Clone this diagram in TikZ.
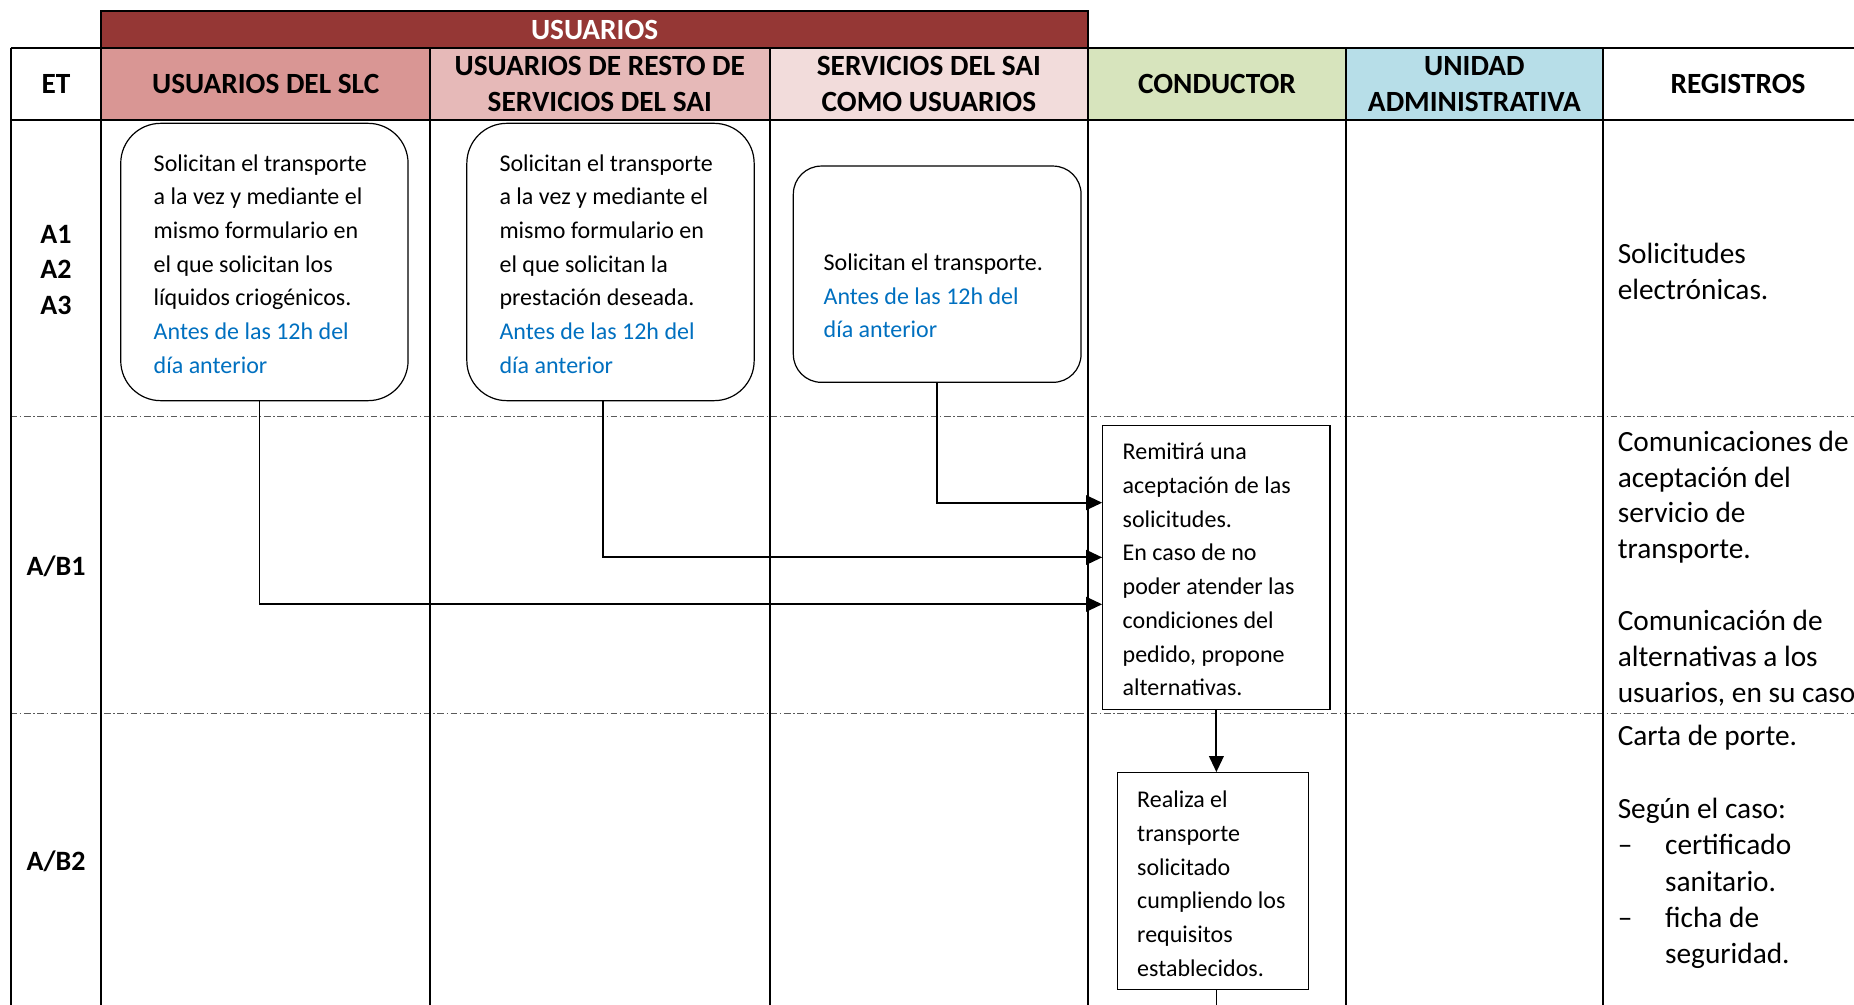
\documentclass[tikz,border=0pt]{standalone}
\usepackage{fontspec}
\setmainfont{Carlito}
\usetikzlibrary{arrows.meta}
\definecolor{barred}{HTML}{953735}
\definecolor{slcred}{HTML}{D99694}
\definecolor{restored}{HTML}{E6B9B8}
\definecolor{saired}{HTML}{F2DCDB}
\definecolor{condgreen}{HTML}{D7E4BD}
\definecolor{uablue}{HTML}{B7DEE8}
\definecolor{limitblue}{HTML}{0070C0}
\definecolor{sepgray}{HTML}{5A5A5A}
\tikzset{
  hdr/.style={font=\fontsize{22}{26.6}\selectfont\bfseries, align=center},
  etlabel/.style={font=\fontsize{21}{26.6}\selectfont\bfseries, align=center},
  rbox/.style={draw, line width=0.9pt, rounded corners=30pt, fill=white, inner sep=0pt},
  pbox/.style={draw, line width=0.9pt, fill=white, inner sep=0pt},
  boxtxt/.style={inner sep=0pt, anchor=west, align=left, font=\fontsize{18}{25.3}\selectfont},
  reg/.style={inner sep=0pt, anchor=north west, align=left, font=\fontsize{22}{26.9}\selectfont},
  flow/.style={line width=1.4pt, -{Triangle[length=12pt, width=11pt]}},
  rowsep/.style={sepgray, line width=0.7pt, dash pattern=on 5pt off 2pt on 1pt off 2pt},
  grid/.style={line width=1.35pt}
}
\begin{document}
\begin{tikzpicture}[x=0.75pt, y=-0.75pt] % one unit = one pixel of the sheet
\useasboundingbox (0,0) rectangle (1854,1005);
\clip (0,0) rectangle (1854,1005);
% header cells
\fill[slcred] (101.3,47.7) rectangle (430,120);
\fill[restored] (430,47.7) rectangle (769.7,120);
\fill[saired] (769.7,47.7) rectangle (1087.8,120);
\fill[condgreen] (1087.8,47.7) rectangle (1346,120);
\fill[uablue] (1346,47.7) rectangle (1602.7,120);
\filldraw[grid, fill=barred] (101.3,11) rectangle (1087.8,47.7);
% rows and columns
\foreach \y in {416.5,713}
  \draw[rowsep] (10.6,\y) -- (1860,\y);
\foreach \x in {10.6,101.3,430,769.7,1087.8,1346,1602.7}
  \draw[grid] (\x,47.7) -- (\x,1010);
\draw[grid] (10.6,47.7) -- (1860,47.7);
\draw[grid] (10.6,120) -- (1860,120);

\node[hdr, text=white] (usuarios) at (594.6,30.3) {USUARIOS};
\node[hdr] (et) at (56,84) {ET};
\node[hdr] (hslc) at (265.7,84) {USUARIOS DEL SLC};
\node[hdr] (hresto) at (599.8,84) {USUARIOS DE RESTO DE\\SERVICIOS DEL SAI};
\node[hdr] (hsai) at (928.9,84) {SERVICIOS DEL SAI\\COMO USUARIOS};
\node[hdr] (hcond) at (1217,84) {CONDUCTOR};
\node[hdr] (hua) at (1474.4,84) {UNIDAD\\ADMINISTRATIVA};
\node[hdr] (hreg) at (1738,84) {REGISTROS};

\node[etlabel] (a123) at (56,269.6) {A1\\A2\\A3};
\node[etlabel] (ab1) at (56,566) {A/B1};
\node[etlabel] (ab2) at (56,861) {A/B2};

% requests
\node[rbox, minimum width=215.5pt, minimum height=208pt] (s1) at (264.4,262) {};
\node[boxtxt] (t1) at ([xshift=25pt, yshift=-2.6pt]s1.west) {\strut Solicitan el transporte\\ a la vez y mediante el\\ mismo formulario en\\ el que solicitan los\\ líquidos criogénicos.\\ \textcolor{limitblue}{Antes de las 12h del}\\ \textcolor{limitblue}{día anterior}\strut};
\node[rbox, minimum width=215.5pt, minimum height=208pt] (s2) at (610.5,262) {};
\node[boxtxt] (t2) at ([xshift=24.8pt, yshift=-2.6pt]s2.west) {\strut Solicitan el transporte\\ a la vez y mediante el\\ mismo formulario en\\ el que solicitan la\\ prestación deseada.\\ \textcolor{limitblue}{Antes de las 12h del}\\ \textcolor{limitblue}{día anterior}\strut};
\node[rbox, rounded corners=21pt, minimum width=215.8pt, minimum height=162.2pt] (s3) at (937.2,274.2) {};
\node[boxtxt] (t3) at ([xshift=23pt, yshift=-17.3pt]s3.west) {\strut Solicitan el transporte.\\ \textcolor{limitblue}{Antes de las 12h del}\\ \textcolor{limitblue}{día anterior}\strut};

% driver
\node[pbox, minimum width=170.5pt, minimum height=212.7pt] (c1) at (1216.4,567.5) {};
\node[boxtxt] (tc1) at ([xshift=15.2pt, yshift=-2.6pt]c1.west) {\strut Remitirá una\\ aceptación de las\\ solicitudes.\\ En caso de no\\ poder atender las\\ condiciones del\\ pedido, propone\\ alternativas.\strut};
\node[pbox, minimum width=143pt, minimum height=162.8pt] (c2) at (1213,881.2) {};
\node[boxtxt] (tc2) at ([xshift=14.9pt, yshift=-3pt]c2.west) {\strut Realiza el\\ transporte\\ solicitado\\ cumpliendo los\\ requisitos\\ establecidos.\strut};
\coordinate (pagebottom) at (0,1010);

\draw[flow] ([xshift=-3.7pt]s1.south) |- ([yshift=-27.6pt]c1.west);
\draw[flow] ([xshift=-5.4pt]s2.south) |- ([yshift=7.6pt]c1.west);
\draw[flow] (s3.south) |- ([yshift=48.6pt]c1.west);
\draw[flow] (c1.south) -- (c1.south |- c2.north);
\draw[grid] (c1.south |- c2.south) -- (c1.south |- pagebottom);

% records
\node[reg] (r1) at (1617.5,237.8) {\strut Solicitudes\\ electrónicas.};
\node[reg] (r2) at (1617.5,425.8) {\strut Comunicaciones de\\ aceptación del\\ servicio de\\ transporte.\\[26.9pt] Comunicación de\\ alternativas a los\\ usuarios, en su caso.};
\node[reg, font=\fontsize{22}{27.3}\selectfont] (r3) at (1617.5,719.8) {\strut Carta de porte.\\[27.3pt] Según el caso:\\ \makebox[35.5pt][l]{--}certificado\\ \hspace*{35.5pt}sanitario.\\ \makebox[35.5pt][l]{--}ficha de\\ \hspace*{35.5pt}seguridad.};
\end{tikzpicture}
\end{document}
